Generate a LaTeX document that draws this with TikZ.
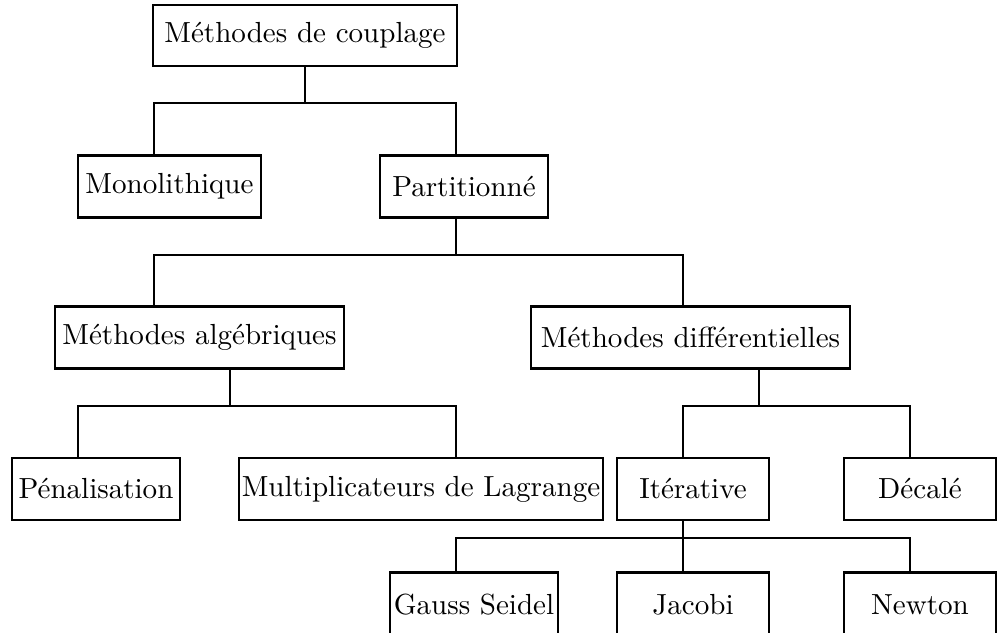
\documentclass[tikz,border=0pt]{standalone}
\usepackage{fontspec}
\begin{document}
\begin{tikzpicture}[x=0.344pt,y=-0.344pt,
  box/.style={draw, line width=0.75pt, inner sep=1pt, minimum height=21.3pt},
  link/.style={line width=0.75pt}]
\useasboundingbox (0,0) rectangle (998,632);
% nodes
\node[box, minimum width=104.6pt, minimum height=21pt] (root) at (305,35.5) {Méthodes de couplage};
\node[box, minimum width=63pt] (mono) at (169.5,186.5) {Monolithique};
\node[box, minimum width=57.8pt] (part) at (464,186.5) {Partitionné};
\node[box, minimum width=99.4pt] (alg) at (199.5,337.5) {Méthodes algébriques};
\node[box, minimum width=109.7pt] (diff) at (690.5,337.5) {Méthodes différentielles};
\node[box, minimum width=57.8pt] (pen) at (96,489) {Pénalisation};
\node[box, minimum width=125.2pt] (mult) at (421,489) {Multiplicateurs de Lagrange};
\node[box, minimum width=52.3pt] (iter) at (693,489) {Itérative};
\node[box, minimum width=52.3pt] (dec) at (920,489) {Décalé};
\node[box, minimum width=57.8pt, minimum height=22pt] (gauss) at (474,604.5) {Gauss Seidel};
\node[box, minimum width=52.3pt, minimum height=22pt] (jacobi) at (693,604.5) {Jacobi};
\node[box, minimum width=52.3pt, minimum height=22pt] (newton) at (920,604.5) {Newton};
% bus coordinates
\coordinate (b1L) at (154,103); \coordinate (b1R) at (456,103);
\coordinate (b2L) at (154,255); \coordinate (b2R) at (683,255);
\coordinate (s3) at (230,406);
\coordinate (b3L) at (78,406); \coordinate (b3R) at (456,406);
\coordinate (s4) at (759,406);
\coordinate (b4L) at (683,406); \coordinate (b4R) at (910,406);
\coordinate (b5L) at (456,538); \coordinate (b5M) at (683,538); \coordinate (b5R) at (910,538);
% connectors
\draw[link] (root.south) -- (root.south |- b1L);
\draw[link] (mono.north -| b1L) -- (b1L) -- (b1R) -- (part.north -| b1R);
\draw[link] (part.south -| b1R) -- (b1R |- b2L);
\draw[link] (alg.north -| b2L) -- (b2L) -- (b2R) -- (diff.north -| b2R);
\draw[link] (alg.south -| s3) -- (s3);
\draw[link] (pen.north -| b3L) -- (b3L) -- (b3R) -- (mult.north -| b3R);
\draw[link] (diff.south -| s4) -- (s4);
\draw[link] (iter.north -| b4L) -- (b4L) -- (b4R) -- (dec.north -| b4R);
\draw[link] (iter.south -| b5M) -- (b5M);
\draw[link] (gauss.north -| b5L) -- (b5L) -- (b5R) -- (newton.north -| b5R);
\draw[link] (jacobi.north -| b5M) -- (b5M);
\end{tikzpicture}
\end{document}
